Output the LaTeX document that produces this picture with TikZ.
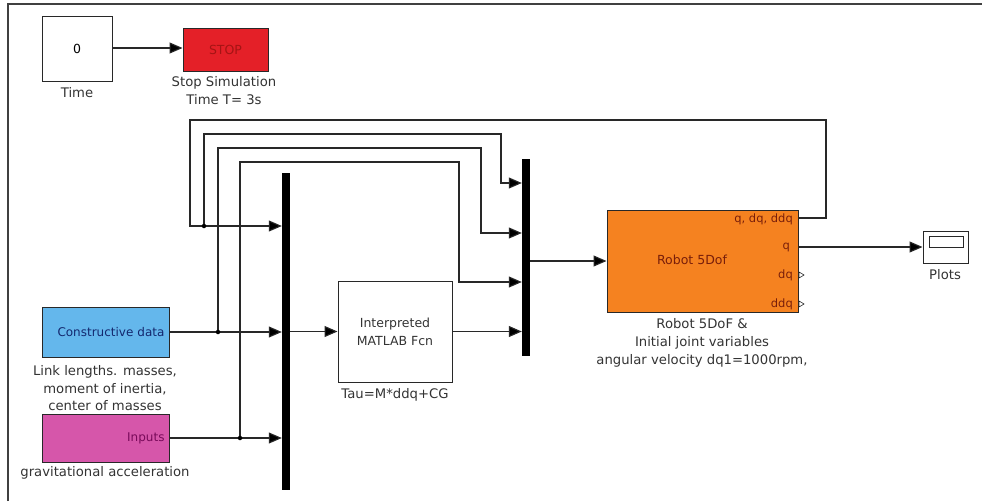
\documentclass[tikz,border=0pt]{standalone}
\usepackage{fontspec}
\setmainfont{DejaVu Sans}
\usetikzlibrary{arrows.meta}
\definecolor{stopred}{RGB}{228,32,40}
\definecolor{stoptext}{RGB}{165,20,20}
\definecolor{cdblue}{RGB}{100,183,236}
\definecolor{cdtext}{RGB}{20,40,110}
\definecolor{inpmag}{RGB}{214,86,170}
\definecolor{inptext}{RGB}{120,10,90}
\definecolor{robor}{RGB}{245,130,32}
\definecolor{robtext}{RGB}{120,30,10}
\definecolor{wirec}{RGB}{40,40,40}
\begin{document}
\begin{tikzpicture}[x=1pt,y=-1pt,
  font=\fontsize{12.5}{18}\selectfont,
  blk/.style={draw=wirec, line width=1pt, inner sep=0pt},
  wire/.style={draw=wirec, line width=1.1pt},
  arr/.style={wire, -{Triangle[length=13pt,width=11pt,fill=black]}},
  muxbar/.style={fill=black, draw=none, minimum width=8pt, inner sep=0pt},
  jdot/.style={circle, fill=black, inner sep=0pt, minimum size=4.5pt},
  lbl/.style={align=center, inner sep=0pt, text=black!80, font=\fontsize{13.2}{18}\selectfont},
  portl/.style={inner sep=0pt, text=robtext, anchor=east, font=\fontsize{11.5}{14}\selectfont}]
\useasboundingbox (0,0) rectangle (982,501);
\draw[line width=1.6pt, black!75] (8,501) -- (8,4) -- (982,4);

% blocks
\node[blk, minimum width=70pt, minimum height=65pt] (time) at (77,48.5) {0};
\node[lbl] (timel) at (77,93) {Time};
\node[blk, fill=stopred, minimum width=85pt, minimum height=43pt, text=stoptext] (stop) at (225.5,49.5) {STOP};
\node[lbl] (stopl) at (224,91) {Stop Simulation\\Time T= 3s};

\node[blk, fill=cdblue, minimum width=127pt, minimum height=50pt, text width=118pt, align=right, text=cdtext, font=\fontsize{12}{14}\selectfont] (cd) at (105.5,332) {Constructive data};
\node[lbl, font=\fontsize{13.2}{17.5}\selectfont] (cdl) at (105,388.5) {Link lengths. masses,\\moment of inertia,\\center of masses};
\node[blk, fill=inpmag, minimum width=127pt, minimum height=48pt, text width=118pt, align=right, text=inptext, font=\fontsize{12}{14}\selectfont] (inp) at (105.5,438) {Inputs};
\node[lbl] (inpl) at (105,473) {gravitational acceleration};

\node[muxbar, minimum height=317pt] (mux1) at (286,331.5) {};
\node[muxbar, minimum height=197pt] (mux2) at (526,257.5) {};

\node[blk, minimum width=114pt, minimum height=101pt, align=center, text=black!80] (fcn) at (395,331.5) {Interpreted\\MATLAB Fcn};
\node[lbl] (fcnl) at (395,395) {Tau=M*ddq+CG};

\node[blk, fill=robor, minimum width=191pt, minimum height=102pt] (robot) at (702.5,261) {};
\node[inner sep=0pt, text=robtext] (robtxt) at (692,260) {Robot 5Dof};
\node[portl] (p1) at (793,219) {q, dq, ddq};
\node[portl] (p2) at (790,247) {q};
\node[portl] (p3) at (793,275) {dq};
\node[portl] (p4) at (793,304) {ddq};
\draw[line width=0.6pt, wirec] (799,272) -- (804,275) -- (799,278) -- cycle;
\draw[line width=0.6pt, wirec] (799,301) -- (804,304) -- (799,307) -- cycle;
\node[lbl] (robl) at (702,343) {Robot 5DoF \&\\Initial joint variables\\angular velocity dq1=1000rpm,};

\node[blk, minimum width=45pt, minimum height=32pt] (plots) at (945.5,247) {};
\draw[wirec, line width=1pt] ([shift={(-16.5,-11)}]plots.center) rectangle ([shift={(17.5,0)}]plots.center);
\node[lbl] (plotsl) at (945,275) {Plots};

% coordinates
\coordinate (j1) at (204,226);
\coordinate (j2) at (218,332);
\coordinate (j3) at (240,438);
\coordinate (k1) at (501,183);
\coordinate (k2) at (481,233);
\coordinate (k3) at (459,282);
\coordinate (rqd) at (798,218);
\coordinate (rq) at (798,247);

% connectors
\draw[arr] (time.east |- 0,48) -- (stop.west |- 0,48);
\draw[arr] (rqd) -- (826,218) |- (190,120) |- (j1) -- (mux1.west |- j1);
\draw[arr] (j1) -- (204,134) -| (k1) -- (mux2.west |- k1);
\draw[arr] (cd.east) -- (mux1.west |- cd.east);
\draw[arr] (j2) -- (218,148) -| (k2) -- (mux2.west |- k2);
\draw[arr] (inp.east) -- (mux1.west |- inp.east);
\draw[arr] (j3) -- (240,162) -| (k3) -- (mux2.west |- k3);
\draw[arr] (mux1.east |- fcn.west) -- (fcn.west);
\draw[arr] (fcn.east) -- (mux2.west |- fcn.east);
\draw[arr] (mux2.east |- robot.west) -- (robot.west);
\draw[arr] (rq) -- (plots.west);

\node[jdot] (d1) at (j1) {};
\node[jdot] (d2) at (j2) {};
\node[jdot] (d3) at (j3) {};
\end{tikzpicture}
\end{document}
